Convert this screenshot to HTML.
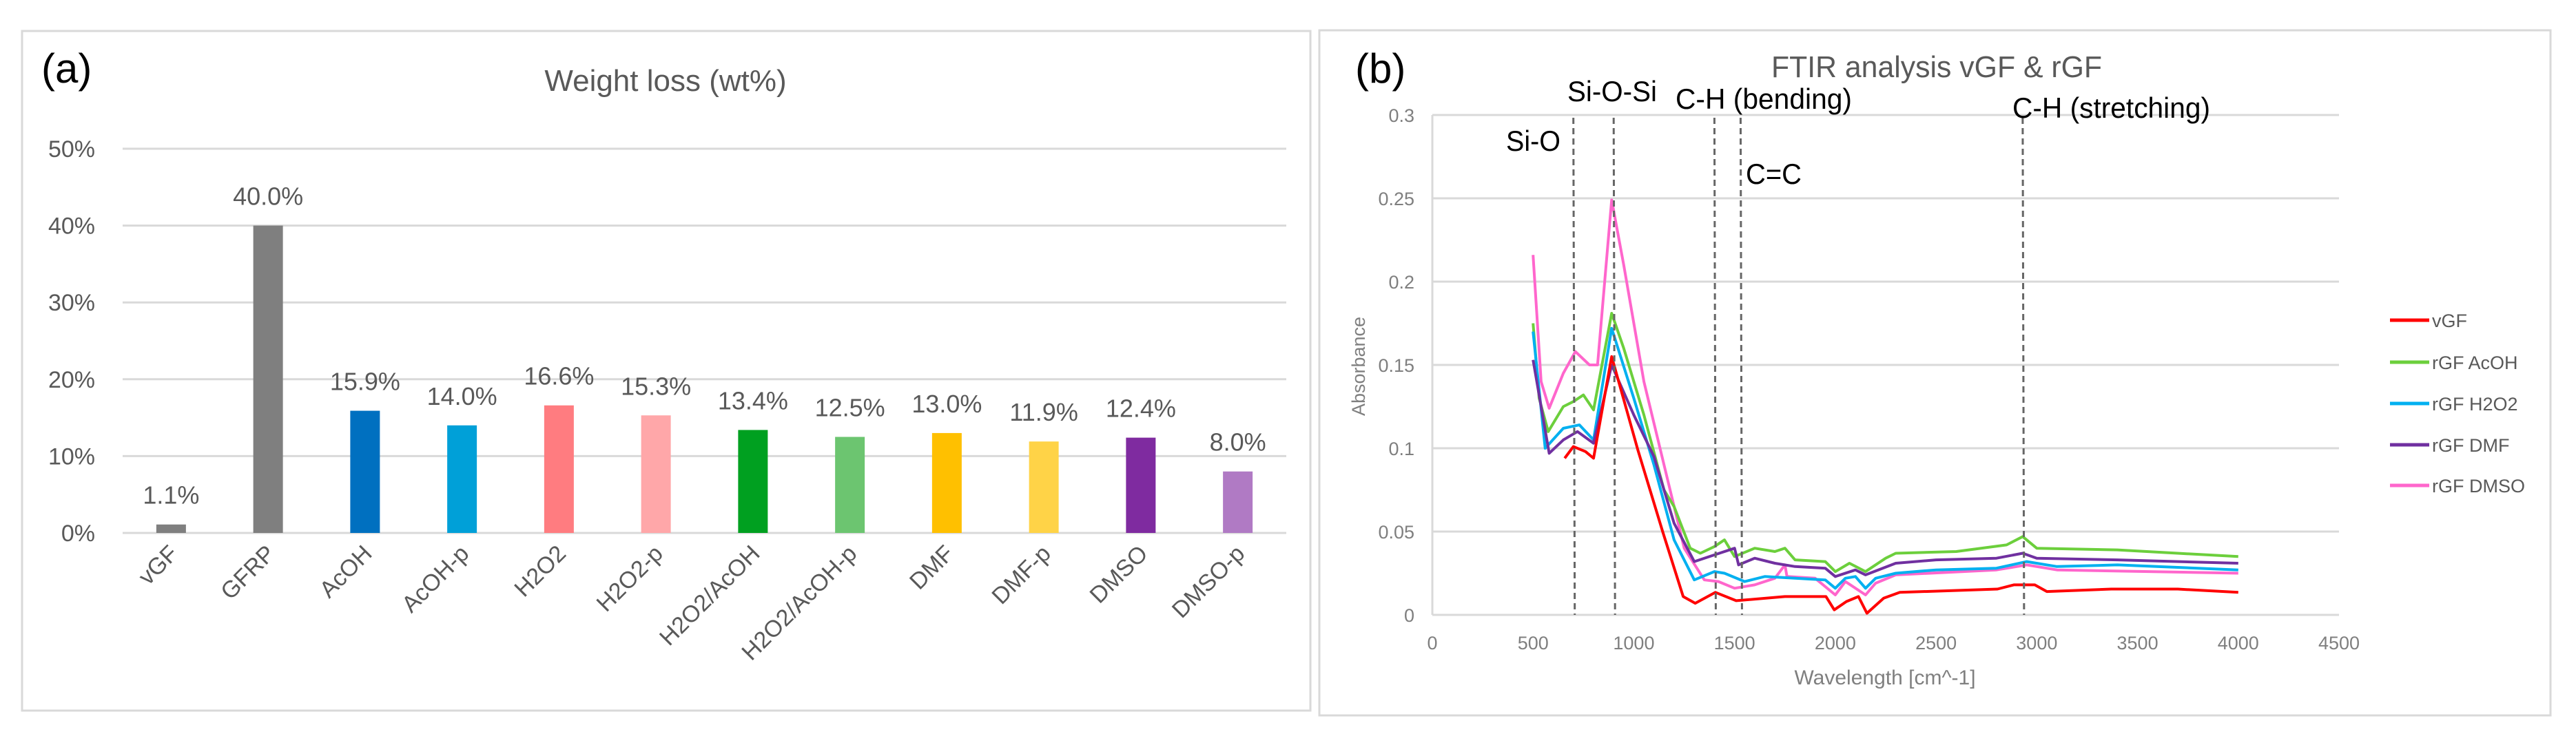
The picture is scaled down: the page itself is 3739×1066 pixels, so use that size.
<!DOCTYPE html>
<html><head><meta charset="utf-8"><style>
html,body{margin:0;padding:0;background:#fff;}
svg{display:block;font-family:"Liberation Sans",sans-serif;}
</style></head><body>
<svg id="fig" width="3739" height="1066" viewBox="0 0 3739 1066" xmlns="http://www.w3.org/2000/svg">
<rect x="0" y="0" width="3739" height="1066" fill="#fff"/>
<rect x="32" y="45" width="1870" height="987" fill="#fff" stroke="#d9d9d9" stroke-width="3"/>
<rect x="1915" y="44" width="1787" height="995" fill="#fff" stroke="#d9d9d9" stroke-width="3"/>
<text x="60" y="120" font-size="60" fill="#000">(a)</text>
<text x="966" y="132" font-size="44" fill="#595959" text-anchor="middle">Weight loss (wt%)</text>
<text x="1967" y="120" font-size="60" fill="#000">(b)</text>
<text x="2811" y="112" font-size="44" fill="#595959" text-anchor="middle" textLength="480" lengthAdjust="spacingAndGlyphs">FTIR analysis vGF &amp; rGF</text>
<g id="barChart"></g>
<g id="lineChart"></g>
</svg>
<script>
var NS="http://www.w3.org/2000/svg";
function mk(tag,attrs,parent){var e=document.createElementNS(NS,tag);for(var k in attrs)e.setAttribute(k,attrs[k]);parent.appendChild(e);return e;}

// ---- Bar chart data ----
var barCategories=["vGF","GFRP","AcOH","AcOH-p","H2O2","H2O2-p","H2O2/AcOH","H2O2/AcOH-p","DMF","DMF-p","DMSO","DMSO-p"];
var barValues=[1.1,40.0,15.9,14.0,16.6,15.3,13.4,12.5,13.0,11.9,12.4,8.0];
var barColors=["#7f7f7f","#7f7f7f","#0070c0","#00a0d8","#ff7c80","#ffa7a9","#00a020","#6cc570","#ffc000","#ffd347","#7f2ba0","#b07ac4"];
var barTicks=[0,10,20,30,40,50];

// ---- FTIR data ----
var ftirSeriesNames=["vGF","rGF AcOH","rGF H2O2","rGF DMF","rGF DMSO"];
var ftirColors=["#ff0000","#6ccf3c","#00b0f0","#7030a0","#ff66cc"];
var vgfX=[657,700,760,800,890,1020,1143,1245,1305,1405,1508,1750,1954,1995,2055,2115,2157,2240,2320,2805,2886,2990,3050,3370,3700,4000];
var vgfY=[0.094,0.101,0.098,0.094,0.155,0.099,0.05,0.011,0.007,0.0135,0.0085,0.011,0.011,0.003,0.008,0.011,0.001,0.010,0.0135,0.0155,0.018,0.018,0.014,0.0155,0.0155,0.0135];
var acohX=[500,530,575,650,700,750,800,890,950,1050,1150,1200,1280,1330,1400,1450,1500,1600,1700,1750,1800,1950,2000,2070,2150,2250,2300,2600,2850,2930,3000,3400,3700,4000];
var acohY=[0.175,0.13,0.11,0.125,0.128,0.132,0.123,0.181,0.16,0.12,0.075,0.065,0.04,0.037,0.041,0.045,0.035,0.04,0.038,0.04,0.033,0.032,0.026,0.031,0.026,0.034,0.037,0.038,0.042,0.047,0.04,0.039,0.037,0.035];
var h2o2X=[500,560,650,730,800,890,1000,1100,1200,1300,1400,1450,1550,1650,1800,1950,2000,2050,2100,2150,2200,2300,2500,2800,2950,3100,3400,4000];
var h2o2Y=[0.17,0.1,0.112,0.114,0.105,0.172,0.13,0.09,0.045,0.021,0.026,0.025,0.02,0.023,0.022,0.021,0.016,0.022,0.023,0.016,0.022,0.025,0.027,0.028,0.032,0.029,0.03,0.027];
var dmfX=[500,580,650,720,800,890,1000,1100,1200,1300,1400,1500,1520,1600,1700,1800,1950,2000,2100,2150,2300,2500,2800,2930,3000,3400,4000];
var dmfY=[0.153,0.097,0.105,0.11,0.103,0.15,0.12,0.095,0.055,0.032,0.036,0.04,0.03,0.034,0.031,0.029,0.028,0.023,0.027,0.024,0.031,0.033,0.034,0.037,0.034,0.033,0.031];
var dmsoX=[500,540,580,650,710,780,820,890,950,1050,1150,1250,1350,1420,1500,1600,1700,1750,1760,1900,2000,2050,2150,2200,2300,2800,2950,3100,4000];
var dmsoY=[0.216,0.14,0.124,0.145,0.158,0.15,0.15,0.249,0.21,0.14,0.09,0.04,0.021,0.02,0.016,0.018,0.022,0.03,0.023,0.022,0.012,0.02,0.012,0.019,0.024,0.027,0.03,0.027,0.025];
var ftirXTicks=[0,500,1000,1500,2000,2500,3000,3500,4000,4500];
var ftirYTicks=[0,0.05,0.1,0.15,0.2,0.25,0.3];
var bandPositions=[700,900,1400,1530,2930];

// ---- Bar chart ----
(function(){
  var g=document.getElementById('barChart');
  var L=178,R=1867,Y0=774,step=11.16;
  function ys(v){return Y0-v*step;}
  var band=(R-L)/barCategories.length;
  function xc(i){return L+band*(i+0.5);}
  barTicks.forEach(function(t){
    var ln=mk('line',{x1:L,x2:R,y1:ys(t),y2:ys(t),stroke:'#d9d9d9','stroke-width':3},g);
    
    
    var tx=mk('text',{x:138,y:ys(t)+12,'font-size':34,fill:'#595959','text-anchor':'end'},g);
    tx.textContent=t+'%';
    
    
  });
  barCategories.forEach(function(c,i){
    var v=barValues[i],x=xc(i);
    var r=mk('rect',{x:x-21.5,y:ys(v),width:43,height:Y0-ys(v),fill:barColors[i]},g);
    
    
    var vl=mk('text',{x:x,y:ys(v)-30,'font-size':36,fill:'#595959','text-anchor':'middle'},g);
    vl.textContent=v.toFixed(1)+'%';
    
    
    var cl=mk('text',{x:0,y:0,'font-size':34,fill:'#595959','text-anchor':'end',transform:'translate('+(x+12)+',806) rotate(-45)'},g);
    cl.textContent=c;
    
    
  });
})();

// ---- FTIR chart ----
(function(){
  var g=document.getElementById('lineChart');
  var L=2079,R=3395,T=167,B=893;
  function xs(v){return L+(v/4500)*(R-L);}
  function ys(v){return B-(v/0.3)*(B-T);}
  ftirYTicks.forEach(function(t){
    var ln=mk('line',{x1:L,x2:R,y1:ys(t),y2:ys(t),stroke:'#d9d9d9','stroke-width':3},g);
    
    
    var tx=mk('text',{x:2053,y:ys(t)+10,'font-size':27,fill:'#7f7f7f','text-anchor':'end'},g);
    tx.textContent=String(t);
    
    
  });
  var ax=mk('line',{x1:L,x2:L,y1:T,y2:B,stroke:'#d9d9d9','stroke-width':3},g);
  
  
  ftirXTicks.forEach(function(t){
    var tx=mk('text',{x:xs(t),y:943,'font-size':27,fill:'#7f7f7f','text-anchor':'middle'},g);
    tx.textContent=String(t);
    
    
  });
  var yt=mk('text',{x:0,y:0,'font-size':27,fill:'#7f7f7f','text-anchor':'middle',transform:'translate(1981,532) rotate(-90)'},g);
  yt.textContent='Absorbance';
  
  
  var xt=mk('text',{x:2736,y:994,'font-size':30,fill:'#7f7f7f','text-anchor':'middle'},g);
  xt.textContent='Wavelength [cm^-1]';
  
  

  var xsArr=[vgfX,acohX,h2o2X,dmfX,dmsoX], ysArr=[vgfY,acohY,h2o2Y,dmfY,dmsoY];
  var order=[4,1,2,3,0];
  order.forEach(function(s){
    var d='';
    xsArr[s].forEach(function(x,i){d+=(i?'L':'M')+xs(x).toFixed(1)+','+ys(ysArr[s][i]).toFixed(1);});
    var p=mk('path',{d:d,fill:'none',stroke:ftirColors[s],'stroke-width':4,'stroke-linejoin':'round'},g);
    
    
  });
  bandPositions.forEach(function(b){
    var ln=mk('line',{x1:xs(b),x2:xs(b)+2,y1:171,y2:B,stroke:'#666','stroke-width':3,'stroke-dasharray':'9,6'},g);
    
    
  });
  var ann=[["Si-O",2186,219,79],["Si-O-Si",2275,147,130],["C-H (bending)",2432,158,256],["C=C",2534,267,81],["C-H (stretching)",2921,171,287]];
  ann.forEach(function(a){
    var t=mk('text',{x:a[1],y:a[2],'font-size':42,fill:'#000',textLength:a[3],lengthAdjust:'spacingAndGlyphs'},g);
    t.textContent=a[0];
    
    
  });
  var legY=[465,526,586,646,705];
  ftirSeriesNames.forEach(function(n,i){
    var ln=mk('line',{x1:3469,x2:3526,y1:legY[i],y2:legY[i],stroke:ftirColors[i],'stroke-width':5},g);
    
    
    var t=mk('text',{x:3530,y:legY[i]+10,'font-size':27,fill:'#595959'},g);
    t.textContent=n;
    
    
  });
})();
</script>
</body></html>
